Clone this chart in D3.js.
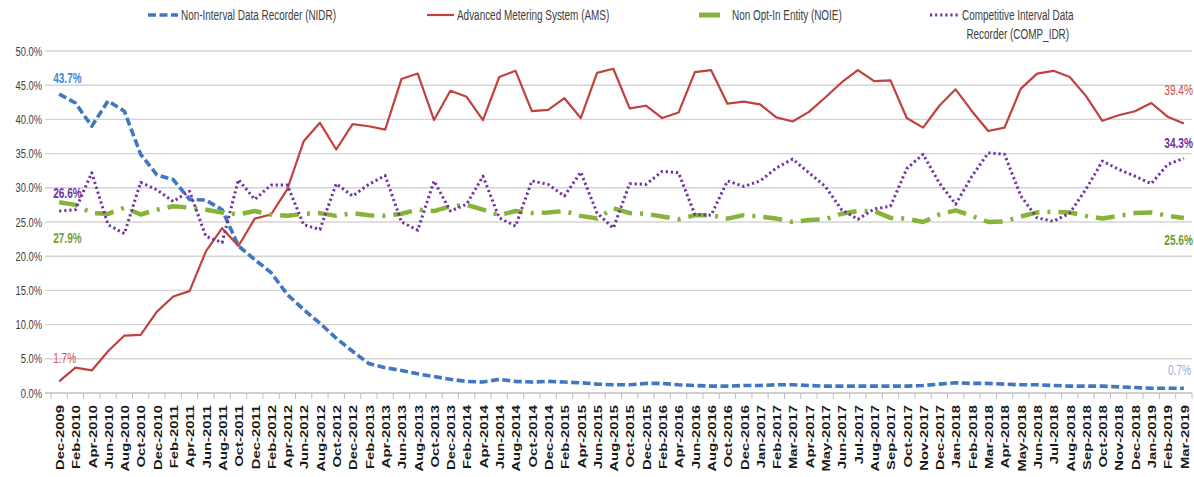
<!DOCTYPE html>
<html>
<head>
<meta charset="utf-8">
<script src="https://cdn.jsdelivr.net/npm/d3@7"></script>
<style>
  html, body { margin: 0; padding: 0; background: #fff; }
  svg { display: block; }
  text { font-family: "Liberation Sans", Arial, sans-serif; }
</style>
</head>
<body>
<svg id="chart" width="1194" height="477"></svg>
<script>
const categories = [
  "Dec-2009","Feb-2010","Apr-2010","Jun-2010","Aug-2010","Oct-2010","Dec-2010",
  "Feb-2011","Apr-2011","Jun-2011","Aug-2011","Oct-2011","Dec-2011",
  "Feb-2012","Apr-2012","Jun-2012","Aug-2012","Oct-2012","Dec-2012",
  "Feb-2013","Apr-2013","Jun-2013","Aug-2013","Oct-2013","Dec-2013",
  "Feb-2014","Apr-2014","Jun-2014","Aug-2014","Oct-2014","Dec-2014",
  "Feb-2015","Apr-2015","Jun-2015","Aug-2015","Oct-2015","Dec-2015",
  "Feb-2016","Apr-2016","Jun-2016","Aug-2016","Oct-2016","Dec-2016",
  "Jan-2017","Feb-2017","Mar-2017","Apr-2017","May-2017","Jun-2017","Jul-2017","Aug-2017","Sep-2017","Oct-2017","Nov-2017","Dec-2017",
  "Jan-2018","Feb-2018","Mar-2018","Apr-2018","May-2018","Jun-2018","Jul-2018","Aug-2018","Sep-2018","Oct-2018","Nov-2018","Dec-2018",
  "Jan-2019","Feb-2019","Mar-2019"
];

const nidr = [43.7,42.4,39.0,42.7,41.2,34.9,31.9,31.2,28.3,28.2,
  26.8,21.5,19.5,17.6,14.4,12.2,10.2,8.0,6.1,4.3,
  3.7,3.3,2.8,2.4,2.0,1.7,1.6,2.0,1.7,1.6,
  1.7,1.6,1.5,1.3,1.2,1.2,1.4,1.4,1.2,1.1,
  1.0,1.0,1.1,1.1,1.2,1.2,1.1,1.0,1.0,1.0,
  1.0,1.0,1.0,1.1,1.3,1.5,1.4,1.4,1.3,1.2,
  1.2,1.1,1.0,1.0,1.0,0.9,0.8,0.7,0.7,0.7];

const ams = [1.7,3.7,3.3,6.1,8.4,8.5,11.9,14.1,14.9,20.7,
  24.1,21.5,25.5,26.1,29.8,36.8,39.5,35.6,39.3,39.0,
  38.5,45.9,46.7,39.9,44.2,43.3,39.9,46.2,47.1,41.2,
  41.4,43.1,40.2,46.8,47.4,41.6,42.0,40.2,41.0,46.9,
  47.2,42.3,42.6,42.2,40.3,39.7,41.1,43.2,45.4,47.2,
  45.6,45.7,40.2,38.8,42.0,44.4,41.2,38.3,38.8,44.5,
  46.7,47.1,46.2,43.4,39.8,40.6,41.2,42.4,40.4,39.4];

const noie = [27.9,27.5,26.3,26.2,27.1,26.1,26.8,27.3,27.1,26.8,
  26.4,26.1,26.6,26.1,25.9,26.2,26.3,25.9,26.3,26.0,
  25.9,26.2,26.8,26.6,27.3,27.5,26.8,26.0,26.6,26.3,
  26.4,26.6,25.9,25.5,27.0,26.3,26.2,25.8,25.4,26.0,
  26.0,25.5,26.0,25.8,25.5,25.0,25.3,25.4,26.2,26.6,
  26.6,25.6,25.5,25.0,26.1,26.7,25.9,25.0,25.1,25.8,
  26.4,26.5,26.4,25.9,25.5,25.9,26.3,26.4,25.9,25.6];

const compIdr = [26.6,26.8,32.2,24.6,23.3,30.8,29.7,28.0,29.5,22.9,
  22.0,31.2,28.3,30.4,30.4,24.6,23.9,30.6,28.8,30.5,
  31.8,25.0,23.8,31.0,26.6,27.6,31.7,25.6,24.4,31.0,
  30.5,28.8,32.3,26.3,24.1,30.6,30.5,32.4,32.2,26.1,
  26.0,31.0,30.2,31.0,32.9,34.2,32.2,30.2,26.8,25.4,
  26.9,27.3,32.8,34.9,30.7,27.6,31.7,35.1,34.9,28.8,
  25.6,25.1,26.3,29.8,33.9,32.7,31.7,30.6,33.4,34.3];

const yTicks = [0,5,10,15,20,25,30,35,40,45,50];
const seriesNames = ["Non-Interval Data Recorder (NIDR)","Advanced Metering System (AMS)","Non Opt-In Entity (NOIE)","Competitive Interval Data|Recorder (COMP_IDR)"];

const SX = 0.72; // horizontal squeeze of the reference's text
const svg = d3.select("#chart");
const plotLeft = 51, plotRight = 1192, plotTop = 51, plotBottom = 393;

const x = d3.scaleBand().domain(categories).range([plotLeft, plotRight]).padding(0);
const y = d3.scaleLinear().domain([0, 50]).range([plotBottom, plotTop]);
const cx = c => x(c) + x.bandwidth() / 2;

function sText(g, tx, ty, str, opts) {
  const sx = opts.sx || SX;
  const t = g.append("text")
    .attr("transform", `translate(${tx},${ty}) scale(${sx},1)` + (opts.rotate ? " rotate(-90)" : ""))
    .attr("text-anchor", opts.anchor || "start")
    .attr("font-size", opts.size || 13)
    .attr("font-weight", opts.weight || "normal")
    .attr("fill", opts.fill || "#404040")
    .text(str);
  if (opts.dy) t.attr("dy", opts.dy);
  return t;
}

// gridlines
const grid = svg.append("g");
yTicks.forEach(v => {
  grid.append("line")
    .attr("x1", 45).attr("x2", plotRight)
    .attr("y1", y(v)).attr("y2", y(v))
    .attr("stroke", v === 0 ? "#bfbfbf" : "#d4d4d4")
    .attr("stroke-width", 1.4);
  sText(grid, 42, y(v), d3.format(".1f")(v) + "%", {anchor: "end", size: 13, dy: "0.35em", fill: "#404040"});
});

// x ticks at category boundaries
const ticks = svg.append("g");
categories.forEach(c => {
  ticks.append("line").attr("x1", x(c)).attr("x2", x(c)).attr("y1", plotBottom).attr("y2", plotBottom + 6)
    .attr("stroke", "#bfbfbf").attr("stroke-width", 1);
});
ticks.append("line").attr("x1", plotRight).attr("x2", plotRight).attr("y1", plotBottom).attr("y2", plotBottom + 6)
  .attr("stroke", "#bfbfbf").attr("stroke-width", 1);

// x labels via axis
const xAxis = d3.axisBottom(x).tickSize(0).tickPadding(0);
const gx = svg.append("g").attr("transform", `translate(0,${plotBottom})`).call(xAxis);
gx.select(".domain").remove();
gx.selectAll(".tick text").remove();
gx.selectAll(".tick").each(function(d) {
  sText(d3.select(this), 0.5, 12, d, {rotate: true, anchor: "end", size: 14.8, sx: 0.8, weight: "bold", dy: "0.36em", fill: "#1a1a1a"});
});

// series
const series = [
  {data: nidr, color: "#3f77c0", width: 3.6, dash: "8,3.5"},
  {data: ams, color: "#c0413f", width: 2.2, dash: null},
  {data: noie, color: "#86b33a", width: 4.5, dash: "19,8,3,8"},
  {data: compIdr, color: "#7030a0", width: 3, dash: "2.2,2.9"}
];
const line = d3.line().x((d, i) => cx(categories[i])).y(d => y(d));
series.forEach(s => {
  svg.append("path").datum(s.data)
    .attr("d", line)
    .attr("fill", "none")
    .attr("stroke", s.color)
    .attr("stroke-width", s.width)
    .attr("stroke-linejoin", "round")
    .attr("stroke-dasharray", s.dash);
});

// data labels at both ends
const fmt = v => d3.format(".1f")(v) + "%";
const first = categories[0], last = categories[categories.length - 1];
const labels = svg.append("g");
sText(labels, cx(first) - 6, y(nidr[0]) - 16, fmt(nidr[0]), {size: 14, weight: "bold", fill: "#3a8ad6", dy: "0.35em"});
sText(labels, cx(first) - 6, y(compIdr[0]) - 18, fmt(compIdr[0]), {size: 14, weight: "bold", fill: "#7030a0", dy: "0.35em"});
sText(labels, cx(first) - 6, y(noie[0]) + 36, fmt(noie[0]), {size: 14, weight: "bold", fill: "#77a03a", dy: "0.35em"});
sText(labels, cx(first) - 6, y(ams[0]) - 23, fmt(ams[0]), {size: 14, fill: "#d0504c", dy: "0.35em"});
const n = categories.length - 1;
sText(labels, cx(last) + 9, y(ams[n]) - 33, fmt(ams[n]), {anchor: "end", size: 14, fill: "#cc4b47", dy: "0.35em"});
sText(labels, cx(last) + 9, y(compIdr[n]) - 15, fmt(compIdr[n]), {anchor: "end", size: 14, weight: "bold", fill: "#7030a0", dy: "0.35em"});
sText(labels, cx(last) + 9, y(noie[n]) + 22, fmt(noie[n]), {anchor: "end", size: 14, weight: "bold", fill: "#6f9a2f", dy: "0.35em"});
sText(labels, cx(last) + 7, y(nidr[n]) - 18, fmt(nidr[n]), {anchor: "end", size: 14, fill: "#8db4e2", dy: "0.35em"});

// legend
const legend = svg.append("g");
const legendY = 15;
const legendPos = [{sx: 148, sw: 30, tx: 181}, {sx: 427, sw: 27, tx: 457}, {sx: 699, sw: 21, tx: 732}, {sx: 930, sw: 30, tx: 962}];
series.forEach((s, i) => {
  const p = legendPos[i];
  legend.append("line")
    .attr("x1", p.sx).attr("x2", p.sx + p.sw).attr("y1", legendY).attr("y2", legendY)
    .attr("stroke", s.color).attr("stroke-width", i === 2 ? 5 : s.width)
    .attr("stroke-dasharray", i === 2 ? null : s.dash);
  const parts = seriesNames[i].split("|");
  const t1 = sText(legend, p.tx, legendY, parts[0], {size: 14, sx: 0.71, dy: "0.35em", fill: "#404040"});
  if (parts.length > 1) {
    const w = t1.node().getComputedTextLength() * 0.71;
    sText(legend, p.tx + w / 2, legendY + 19, parts[1], {anchor: "middle", size: 14, sx: 0.71, dy: "0.35em", fill: "#404040"});
  }
});
</script>
</body>
</html>
